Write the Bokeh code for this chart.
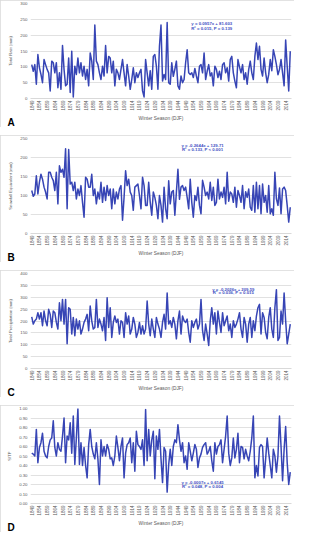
import math
import numpy as np
from bokeh.plotting import figure
from bokeh.layouts import column
from bokeh.models import (FixedTicker, Range1d, Label, Title,
                          NumeralTickFormatter, PrintfTickFormatter)
from bokeh.embed import file_html
from bokeh.resources import INLINE

FIRST_YEAR = 1849
tick_years = list(range(1849, 2015, 5))

total_rain = [107,86,107,45,139,97,76,50,123,107, 92,81,24,118,113,81,113,34,81,29,
              167,92,40,45,128,19,149,5,102,76, 128,81,113,71,102,60,92,40,144,118,
              60,232,118,107,81,60,102,71,167,81, 133,128,81,118,40,92,81,60,92,123,
              81,40,107,71,29,60,97,50,81,66, 81,92,24,5,
              123,81,40,88,29,133,139,102,29,165, 232,55,76,60,240,50,45,113,70,92,
              118,40,29,71,50,60,113,154,81,76, 81,66,95,71,50,102,107,81,144,60,
              86,107,71,81,40,102,92,66,86,60, 107,113,81,97,55,123,133,81,55,34,
              123,100,81,107,60,81,45,92,118,81, 60,133,175,123,165,92,71,128,81,50,
              76,123,88,154,133,107,75,92,123,81, 40,185,102,24,149]

snowfall_eq = [113,98,104,152,104,135,156,143,122,109, 91,161,161,148,139,113,161,78,178,161,
               169,148,223,65,221,130,135,113,135,91, 117,100,126,82,43,148,143,122,122,156,
               100,117,78,109,91,135,82,122,87,126, 100,117,65,117,78,109,91,117,126,35,
               95,165,126,143,109,100,61,122,126,130, 100,65,148,126,74,
               74,135,82,48,109,95,74,39,100,74, 30,122,65,39,139,78,109,113,48,109,
               169,90,122,126,113,122,95,65,143,82, 43,100,87,122,74,52,140,122,100,109,
               91,135,87,122,74,82,143,91,109,95, 122,78,161,85,109,104,82,122,69,113,
               100,82,126,65,110,95,117,69,61,126, 56,135,65,126,52,130,82,100,56,126,
               52,65,48,161,91,74,120,52,117,122, 113,74,30,69]

total_precip = [217,187,201,208,235,208,235,180,242,201, 180,249,228,173,242,235,194,166,277,201,
                291,187,291,104,256,249,145,215,138,208, 166,201,145,166,194,208,228,159,263,201,
                166,173,291,173,208,187,159,215,118,298, 173,256,131,194,221,194,208,145,201,194,
                131,235,187,221,145,166,215,187,131,152, 194,145,180,145,166,
                284,187,138,208,166,131,215,187,166,131, 194,228,166,318,187,201,173,215,187,125,
                201,242,145,221,201,194,208,152,111,201, 173,194,208,166,187,291,159,118,187,145,
                97,201,256,187,235,145,242,194,152,235, 180,201,221,159,187,131,201,173,187,208,
                235,166,131,215,187,111,187,215,131,201, 159,221,256,270,145,235,215,152,125,215,
                256,166,131,256,332,118,131,242,187,318, 201,104,145,187]

s_tp = [0.53,0.52,0.50,0.78,0.43,0.59,0.64,0.74,0.55,0.50, 0.48,0.60,0.67,0.69,0.87,0.59,0.50,0.64,0.57,0.55,
        0.71,0.90,0.43,0.71,0.67,0.85,0.53,0.92,0.41,0.69, 1.00,0.41,0.64,0.40,0.59,0.40,0.27,0.62,0.78,0.60,
        0.52,0.47,0.64,0.47,0.20,0.67,0.50,0.60,0.50,0.62, 0.57,0.47,0.48,0.40,0.50,0.71,0.59,0.45,0.60,0.69,
        0.27,0.53,0.62,0.64,0.69,0.43,0.64,0.34,0.76,0.62, 0.60,0.57,0.67,0.40,0.99,
        0.45,0.78,0.50,0.67,0.76,0.26,0.71,0.57,0.78,0.47, 0.22,0.59,0.55,0.12,0.41,0.57,0.40,0.60,0.67,0.64,
        0.83,0.67,0.55,0.64,0.43,0.50,0.36,0.64,0.55,0.45, 0.53,0.62,0.57,0.38,0.48,0.52,0.59,0.62,0.64,0.52,
        0.55,0.60,0.45,0.34,0.64,0.52,0.60,0.62,0.67,0.43, 0.57,0.71,0.92,0.53,0.40,0.48,0.69,0.48,0.57,0.74,
        0.43,0.60,0.59,0.47,0.57,0.50,0.45,0.55,0.69,0.92, 0.27,0.40,0.29,0.59,0.62,0.60,0.27,0.47,0.69,0.53,
        0.40,0.27,0.57,0.50,0.33,0.50,0.92,0.60,0.24,0.57, 0.81,0.43,0.20,0.33]

panels = [
    dict(letter="A", values=total_rain, ytitle="Total Rain (mm)", ymax=300, ystep=50, fmt=None,
         eq=("y = 0.0957x + 81.603", "R\u00b2 = 0.015, P = 0.139"), eqx=1966, eqy=(236, 222)),
    dict(letter="B", values=snowfall_eq, ytitle="Snowfall Equivalent (mm)", ymax=250, ystep=50, fmt=None,
         eq=("y = -0.2644x + 129.71", "R\u00b2 = 0.133, P < 0.001"), eqx=1960, eqy=(232, 220)),
    dict(letter="C", values=total_precip, ytitle="Total Precipitation (mm)", ymax=400, ystep=50, fmt=None,
         eq=("y = -0.2026x + 209.59", "R\u00b2 = 0.036, P = 0.015"), eqx=1980, eqy=(334, 318)),
    dict(letter="D", values=s_tp, ytitle="S/TP", ymax=1.0, ystep=0.1, fmt="0.00",
         eq=("y = -0.0007x + 0.6145", "R\u00b2 = 0.048, P = 0.004"), eqx=1960, eqy=(0.225, 0.180)),
]

FONT = "Liberation Sans"
LINE_COLOR = "#3745b5"
GRID = "#d9d9d9"
TXT = "#595959"

FIG_W = 294
FIG_H = 127
TOP_B = 3
FRAME_H = 95
LEFT_B = 30
RIGHT_B = 3
X0, X1 = 1848.2, 2017.8

figs = []
for cfg in panels:
    vals = cfg["values"]
    years = np.arange(FIRST_YEAR, FIRST_YEAR + len(vals))
    p = figure(width=FIG_W, height=FIG_H, output_backend="svg", toolbar_location=None,
               x_range=Range1d(X0, X1), y_range=Range1d(0, cfg["ymax"]),
               min_border_left=LEFT_B, min_border_right=RIGHT_B, min_border_top=TOP_B,
               min_border_bottom=FIG_H - TOP_B - FRAME_H,
               styles={"outline": "1px solid #d9d9d9", "outline-offset": "-1px"})
    p.outline_line_color = None
    p.background_fill_color = "white"
    p.border_fill_color = "white"
    p.xgrid.visible = False
    p.ygrid.grid_line_color = GRID
    p.ygrid.grid_line_width = 0.8

    yt = [round(i * cfg["ystep"], 2) for i in range(int(round(cfg["ymax"] / cfg["ystep"])) + 1)]
    p.yaxis.ticker = FixedTicker(ticks=yt)
    if cfg["fmt"]:
        p.yaxis.formatter = NumeralTickFormatter(format=cfg["fmt"])
    p.xaxis.ticker = FixedTicker(ticks=tick_years)
    p.xaxis.formatter = PrintfTickFormatter(format="%d")
    p.xaxis.major_label_orientation = math.pi / 2

    for ax in (p.xaxis[0], p.yaxis[0]):
        ax.major_tick_line_color = None
        ax.minor_tick_line_color = None
        ax.major_tick_out = 0
        ax.major_tick_in = 0
        ax.minor_tick_out = 0
        ax.minor_tick_in = 0
        ax.major_label_text_font = FONT
        ax.major_label_text_color = TXT
        ax.axis_label_text_font = FONT
        ax.axis_label_text_color = TXT
        ax.axis_label_text_font_style = "normal"
    p.yaxis.axis_line_color = None
    p.xaxis.axis_line_color = GRID
    p.yaxis.major_label_text_font_size = "4.3px"
    p.xaxis.major_label_text_font_size = "4.5px"
    p.yaxis.major_label_standoff = 3
    p.xaxis.major_label_standoff = 2
    p.yaxis.axis_label = cfg["ytitle"]
    p.yaxis.axis_label_text_font_size = "4.2px"
    p.yaxis.axis_label_standoff = 4
    p.xaxis.axis_label = "Winter Season (DJF)"
    p.xaxis.axis_label_text_font_size = "4.8px"
    p.xaxis.axis_label_standoff = 2

    p.line(years, vals, line_color=LINE_COLOR, line_width=1.5, line_join="round")

    for txt, yy in zip(cfg["eq"], cfg["eqy"]):
        p.add_layout(Label(x=cfg["eqx"], y=yy, text=txt, text_align="center",
                           text_baseline="middle", text_font=FONT, text_font_size="4.3px",
                           text_font_style="bold", text_color="#3f51c4"))

    # panel letter, bottom-left, pulled up next to the axis title
    p.add_layout(Title(text=cfg["letter"], align="left", offset=-23,
                       vertical_align="top", standoff=-13,
                       text_font=FONT, text_font_size="10px", text_font_style="bold",
                       text_color="black"), "below")
    figs.append(p)

layout = column(*figs, spacing=8)
open("out.html", "w").write(file_html(layout, INLINE))
